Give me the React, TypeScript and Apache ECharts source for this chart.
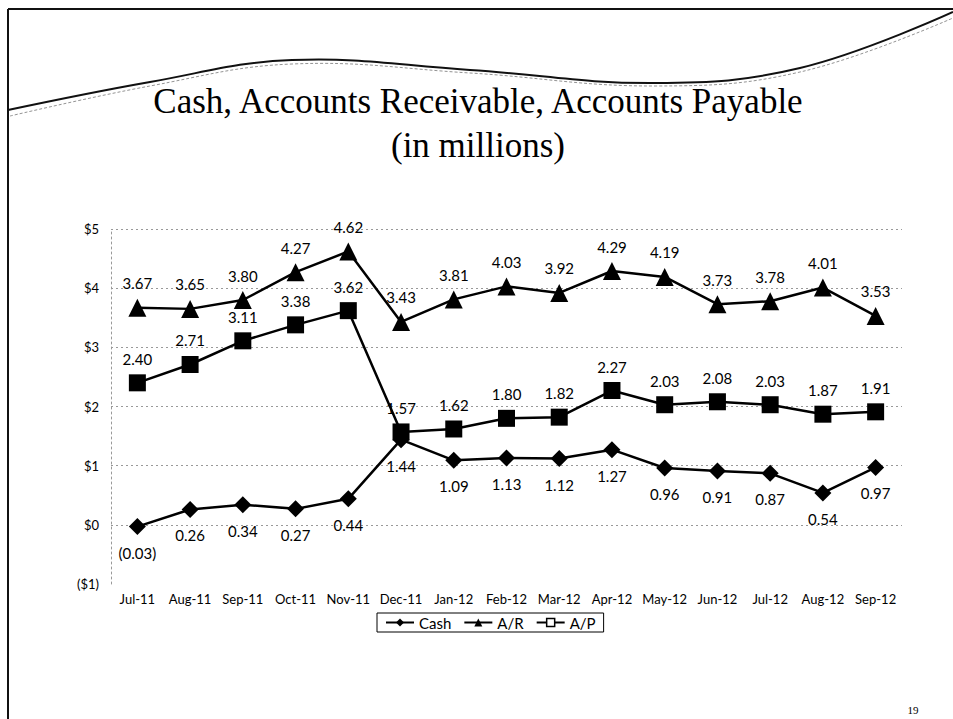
import React, { useEffect, useRef } from "react";
import * as echarts from "echarts";

const categories = ["Jul-11", "Aug-11", "Sep-11", "Oct-11", "Nov-11", "Dec-11", "Jan-12", "Feb-12", "Mar-12", "Apr-12", "May-12", "Jun-12", "Jul-12", "Aug-12", "Sep-12"];
const cash = [-0.03, 0.26, 0.34, 0.27, 0.44, 1.44, 1.09, 1.13, 1.12, 1.27, 0.96, 0.91, 0.87, 0.54, 0.97];
const ar = [3.67, 3.65, 3.8, 4.27, 4.62, 3.43, 3.81, 4.03, 3.92, 4.29, 4.19, 3.73, 3.78, 4.01, 3.53];
const ap = [2.4, 2.71, 3.11, 3.38, 3.62, 1.57, 1.62, 1.8, 1.82, 2.27, 2.03, 2.08, 2.03, 1.87, 1.91];
const seriesNames = ["Cash", "A/R", "A/P"];
const titleLines = ["Cash, Accounts Receivable, Accounts Payable", "(in millions)"];
const pageNumber = "19";

const fmtVal = (v: number) => (v < 0 ? `(${(-v).toFixed(2)})` : v.toFixed(2));
const fmtAxis = (v: number) => (v < 0 ? `($${-v})` : `$${v}`);

const FONT = "Lato, 'Open Sans', sans-serif";

export default function App() {
  const ref = useRef<HTMLDivElement>(null);
  useEffect(() => {
    document.body.style.margin = "0";
    const chart = echarts.init(ref.current!, null, { renderer: "svg" });
    const labelStyle = { color: "#000", fontSize: 15, fontFamily: FONT };
    chart.setOption({
      animation: false,
      backgroundColor: "#fff",
      grid: { left: 111, right: 51, top: 229, bottom: 135, containLabel: false },
      legend: {
        data: [
          { name: seriesNames[0] },
          { name: seriesNames[1] },
          { name: seriesNames[2], itemStyle: { color: "#fff", borderColor: "#000", borderWidth: 1.5 } },
        ],
        left: 377,
        top: 613,
        orient: "horizontal",
        borderColor: "#000",
        borderWidth: 1,
        padding: [2, 8, 2, 8],
        itemWidth: 28,
        itemHeight: 10,
        itemGap: 12,
        textStyle: { color: "#000", fontSize: 15, fontFamily: FONT },
      },
      xAxis: {
        type: "category",
        data: categories,
        boundaryGap: true,
        axisLine: { show: false },
        axisTick: { show: false },
        axisLabel: { color: "#000", fontSize: 13, fontFamily: FONT, margin: 8, interval: 0 },
        splitLine: { show: false },
      },
      yAxis: {
        type: "value",
        min: -1,
        max: 5,
        interval: 1,
        axisLine: { show: true, lineStyle: { color: "#999", type: [2, 3], width: 1 } },
        axisTick: { show: false },
        axisLabel: { color: "#000", fontSize: 13, fontFamily: FONT, margin: 12, formatter: fmtAxis },
        splitLine: {
          show: true,
          lineStyle: { color: ["transparent", "#999", "#999", "#999", "#999", "#999", "#999"], type: [2, 3], width: 1 },
        },
      },
      series: [
        {
          name: seriesNames[0],
          type: "line",
          data: cash,
          symbol: "diamond",
          symbolSize: 17,
          lineStyle: { color: "#000", width: 2.5 },
          itemStyle: { color: "#000" },
          label: { show: true, position: "bottom", distance: 10, formatter: (p: any) => fmtVal(p.value), ...labelStyle },
        },
        {
          name: seriesNames[1],
          type: "line",
          data: ar,
          symbol: "triangle",
          symbolSize: 18,
          lineStyle: { color: "#000", width: 2.5 },
          itemStyle: { color: "#000" },
          label: { show: true, position: "top", distance: 8, formatter: (p: any) => fmtVal(p.value), ...labelStyle },
        },
        {
          name: seriesNames[2],
          type: "line",
          data: ap,
          symbol: "rect",
          symbolSize: 17,
          lineStyle: { color: "#000", width: 2.5 },
          itemStyle: { color: "#000" },
          label: { show: true, position: "top", distance: 8, formatter: (p: any) => fmtVal(p.value), ...labelStyle },
        },
      ],
      graphic: [
        { type: "line", shape: { x1: 8, y1: 9, x2: 953, y2: 9 }, style: { stroke: "#111", lineWidth: 2 } },
        { type: "line", shape: { x1: 8, y1: 9, x2: 8, y2: 719 }, style: { stroke: "#111", lineWidth: 2 } },
        {
          type: "polyline",
          shape: {
            points: [[8, 110], [150, 82], [292, 60], [470, 70], [655, 83], [800, 68], [953, 12]],
            smooth: 0.4,
          },
          style: { stroke: "#111", lineWidth: 2, fill: null },
        },
        {
          type: "polyline",
          shape: {
            points: [[10, 116], [150, 86], [292, 64], [470, 73], [655, 86], [800, 72], [953, 18]],
            smooth: 0.4,
          },
          style: { stroke: "#777", lineWidth: 0.8, fill: null, lineDash: [3, 2] },
        },
        {
          type: "text",
          x: 478,
          y: 101,
          style: { text: titleLines[0], font: '35px "Liberation Serif"', fill: "#000", align: "center", verticalAlign: "middle" },
        },
        {
          type: "text",
          x: 478,
          y: 145,
          style: { text: titleLines[1], font: '35px "Liberation Serif"', fill: "#000", align: "center", verticalAlign: "middle" },
        },
        {
          type: "text",
          x: 913,
          y: 710,
          style: { text: pageNumber, font: '11px "Liberation Serif"', fill: "#000", align: "center", verticalAlign: "middle" },
        },
      ],
    });
    return () => chart.dispose();
  }, []);
  return <div ref={ref} style={{ width: 953, height: 719 }} />;
}
